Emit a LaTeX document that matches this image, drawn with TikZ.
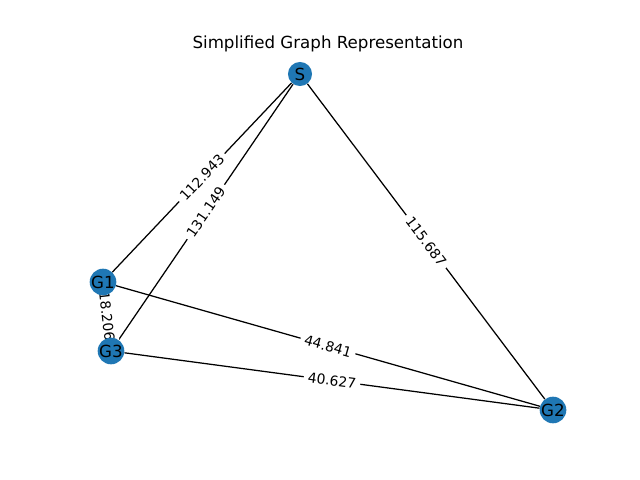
\documentclass[tikz,border=0pt]{standalone}
\usepackage{fontspec}
\setmainfont{DejaVu Sans}
\usetikzlibrary{backgrounds}
\definecolor{nodeblue}{HTML}{1F77B4}
\begin{document}
\begin{tikzpicture}[
  x=0.72pt,y=0.72pt,
  vert/.style={circle,fill=nodeblue,minimum size=17.3pt,inner sep=0pt,font=\fontsize{12}{14}\selectfont},
  link/.style={draw=black,line width=0.9pt},
  wlabel/.style={fill=white,sloped,midway,inner sep=3pt,rounded corners=2pt,font=\fontsize{10}{12}\selectfont}
]
\useasboundingbox (0,0) rectangle (640,480);
\node[font=\fontsize{12}{14}\selectfont] (title) at (328,436) {Simplified Graph Representation};
% vertices
\node[vert] (S) at (300,406) {S};
\node[vert] (G1) at (103,198) {G1};
\node[vert] (G3) at (111,129) {G3};
\node[vert] (G2) at (553,70) {G2};
% weighted edges
\begin{scope}[on background layer]
\draw[link] (S) -- node[wlabel] {112.943} (G1);
\draw[link] (S) -- node[wlabel] {131.149} (G3);
\draw[link] (S) -- node[wlabel] {115.687} (G2);
\draw[link] (G1) -- node[wlabel] {18.206} (G3);
\draw[link] (G1) -- node[wlabel] {44.841} (G2);
\draw[link] (G3) -- node[wlabel] {40.627} (G2);
\end{scope}
\end{tikzpicture}
\end{document}
